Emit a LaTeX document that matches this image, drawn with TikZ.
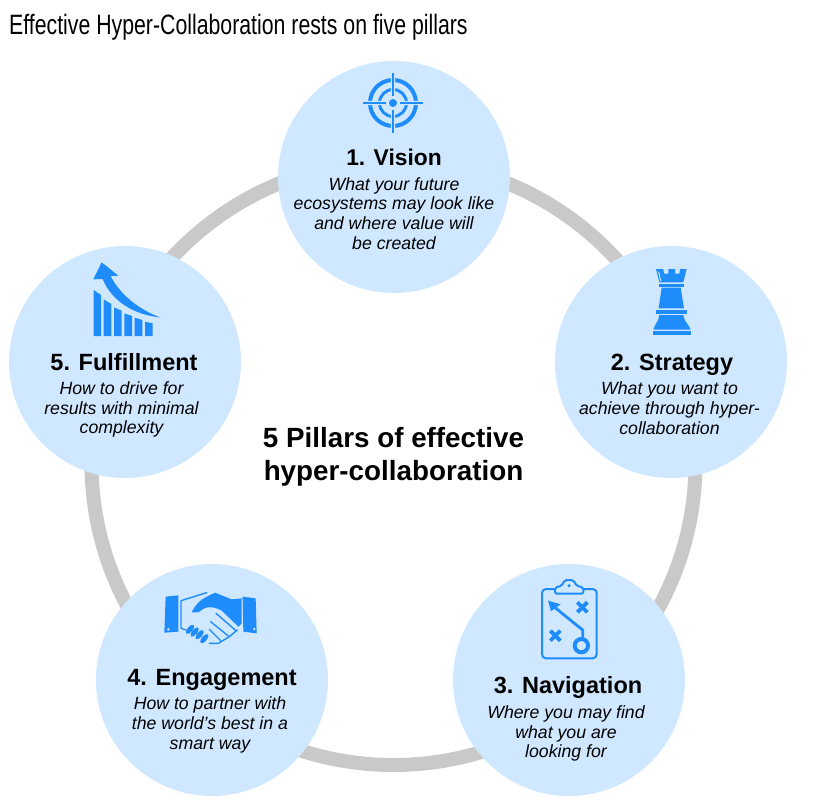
\documentclass[tikz,border=0pt]{standalone}
\usepackage{fontspec}
\setmainfont{Liberation Sans}
\newfontfamily\titlefont[FakeStretch=0.76]{Liberation Sans}
\definecolor{pillarfill}{HTML}{D0E8FF}
\definecolor{iconblue}{HTML}{1E8CFA}
\definecolor{ringgray}{HTML}{C9C9C9}
\tikzset{
  pillar/.style={circle,fill=pillarfill,minimum size=232pt,inner sep=0pt,outer sep=0pt},
  ringshape/.style={circle,draw=ringgray,line width=14pt,minimum size=604pt,inner sep=0pt,outer sep=0pt},
  heading/.style={font=\bfseries\fontsize{23.5}{26}\selectfont,text=black,inner sep=0pt},
  desc/.style={font=\itshape\fontsize{17.7}{19.8}\selectfont,align=center,text=black,inner sep=0pt},
  centertext/.style={font=\bfseries\fontsize{27.8}{33}\selectfont,align=center,inner sep=0pt},
  titletext/.style={font=\titlefont\fontsize{28}{32}\selectfont,anchor=base west,inner sep=0pt},
  iconline/.style={draw=iconblue,line join=round,line cap=round}
}
\begin{document}
\begin{tikzpicture}[x=1pt,y=-1pt]
\useasboundingbox (0,0) rectangle (840,805);
\node[titletext] (title) at (9,35) {Effective Hyper-Collaboration rests on five pillars};
\node[ringshape] (ring) at (393.5,463) {};
\node[pillar] (p1) at (394,177) {};
\node[pillar] (p2) at (671,362) {};
\node[pillar] (p3) at (569,680) {};
\node[pillar] (p4) at (212,680) {};
\node[pillar] (p5) at (125,362) {};
\node[centertext] (center) at (393.5,457) {5 Pillars of effective\\hyper-collaboration};
\node[heading,font=\bfseries\fontsize{22.8}{26}\selectfont] (h1) at (394,157) {1. Vision};
\node[desc] (d1) at (394,213.5) {What your future\\ecosystems may look like\\and where value will\\be created};
\node[heading] (h2) at (672,365) {2. Strategy};
\node[desc] (d2) at (669.5,408) {What you want to\\achieve through hyper-\\collaboration};
\node[heading] (h3) at (568,687) {3. Navigation};
\node[desc] (d3) at (566,733.5) {Where you may find\\what you are\\looking for};
\node[heading] (h4) at (212,680) {4. Engagement};
\node[desc] (d4) at (210,725) {How to partner with\\the world’s best in a\\smart way};
\node[heading] (h5) at (124,362) {5. Fulfillment};
\node[desc] (d5) at (121.5,409.5) {How to drive for\\results with minimal\\complexity};
% target icon
\begin{scope}[shift={(393,103)}]
\draw[iconline,line width=4pt] (0,0) circle (23);
\draw[iconline,line width=3pt] (0,0) circle (13.5);
\fill[pillarfill] (-30,-2.2) rectangle (-7,2.2) (7,-2.2) rectangle (30,2.2) (-2.2,-30) rectangle (2.2,-7) (-2.2,7) rectangle (2.2,30);
\draw[iconblue,line width=1.7pt] (-30,0) -- (-7,0) (7,0) -- (30,0) (0,-30) -- (0,-7) (0,7) -- (0,30);
\fill[iconblue] (0,0) circle (4);
\end{scope}
% rook icon
\begin{scope}[shift={(620,255)},scale=1/3]
\fill[iconblue] (108,42) -- (130,42) -- (132,56) -- (145,56) -- (145,42) -- (165,42) -- (165,56) -- (178,56) -- (180,42) -- (200,42) -- (190,82) -- (118,82) -- cycle;
\fill[iconblue] (116,86) rectangle (192,95);
\fill[iconblue] (125,98) -- (182,98) -- (192,160) -- (116,160) -- cycle;
\fill[iconblue] (108,164) rectangle (200,177);
\fill[iconblue] (118,180) -- (190,180) .. controls (192,200) and (205,205) .. (212,224) -- (100,224) .. controls (105,205) and (116,200) .. (118,180) -- cycle;
\fill[iconblue] (98,228) rectangle (212,240);
\draw[pillarfill,line width=1pt] (116,50) -- (122,78);
\end{scope}
% clipboard icon
\begin{scope}[shift={(520,570)},scale=1/3]
\draw[iconline,line width=2pt,rounded corners=4pt] (66,57) rectangle (230,265);
\draw[iconline,fill=pillarfill,line width=2pt,rounded corners=2pt] (105,71) -- (105,52) -- (125,48) -- (134,30) -- (160,30) -- (170,48) -- (190,52) -- (190,71) -- cycle;
\fill[iconblue] (147,47) circle (5);
\draw[iconblue,line width=3.8pt] (172,97) -- (202,127) (202,97) -- (172,127);
\draw[iconblue,line width=3.8pt] (91,182) -- (121,212) (121,182) -- (91,212);
\draw[iconblue,line width=2.8pt] (104,112) -- (188,180) -- (188,208);
\fill[iconblue] (84,92) -- (122,103) -- (93,124) -- cycle;
\draw[iconblue,line width=4pt] (184,227) circle (20);
\end{scope}
% handshake icon
\begin{scope}[shift={(150,580)},scale=1/3]
\fill[iconblue] (47,50) -- (85,46) -- (85,155) -- (43,158) -- cycle;
\fill[iconblue] (278,50) -- (317,55) -- (320,160) -- (280,155) -- cycle;
\fill[pillarfill] (55,148) circle (4) (313,147) circle (4);
\fill[iconblue] (125,97) .. controls (135,75) and (150,60) .. (170,50) -- (195,38) -- (245,58) -- (275,55) -- (275,130) -- (265,140) -- (215,92) .. controls (195,80) and (170,78) .. (158,88) -- (145,97) -- cycle;
\draw[iconline,line width=1.4pt] (93,62) -- (170,38) (93,62) -- (93,145) -- (108,150);
\draw[iconline,line width=1.4pt] (262,150) -- (238,170) -- (205,190) -- (178,190);
\draw[iconline,line width=1.4pt] (198,100) -- (258,152) (182,125) -- (235,168) (178,148) -- (212,182);
\foreach \a/\b in {120/148,134/156,149/164,163/176}
  \fill[iconblue,rotate around={-40:(\a,\b)}] (\a,\b) ellipse (8 and 17);
\end{scope}
% growth icon
\begin{scope}[shift={(80,255)},scale=1/3]
\fill[iconblue] (41,105) -- (63,120) -- (63,243) -- (41,243) -- cycle;
\fill[iconblue] (71,133) -- (94,147) -- (94,243) -- (71,243) -- cycle;
\fill[iconblue] (102,157) -- (125,167) -- (125,243) -- (102,243) -- cycle;
\fill[iconblue] (133,175) -- (156,183) -- (156,243) -- (133,243) -- cycle;
\fill[iconblue] (164,188) -- (187,195) -- (187,243) -- (164,243) -- cycle;
\fill[iconblue] (195,200) -- (218,205) -- (218,243) -- (195,243) -- cycle;
\fill[iconblue] (92,63) .. controls (120,120) and (180,165) .. (240,187) .. controls (165,180) and (95,140) .. (68,72) -- (40,73) -- (65,22) -- (115,62) -- cycle;
\end{scope}
\end{tikzpicture}
\end{document}
